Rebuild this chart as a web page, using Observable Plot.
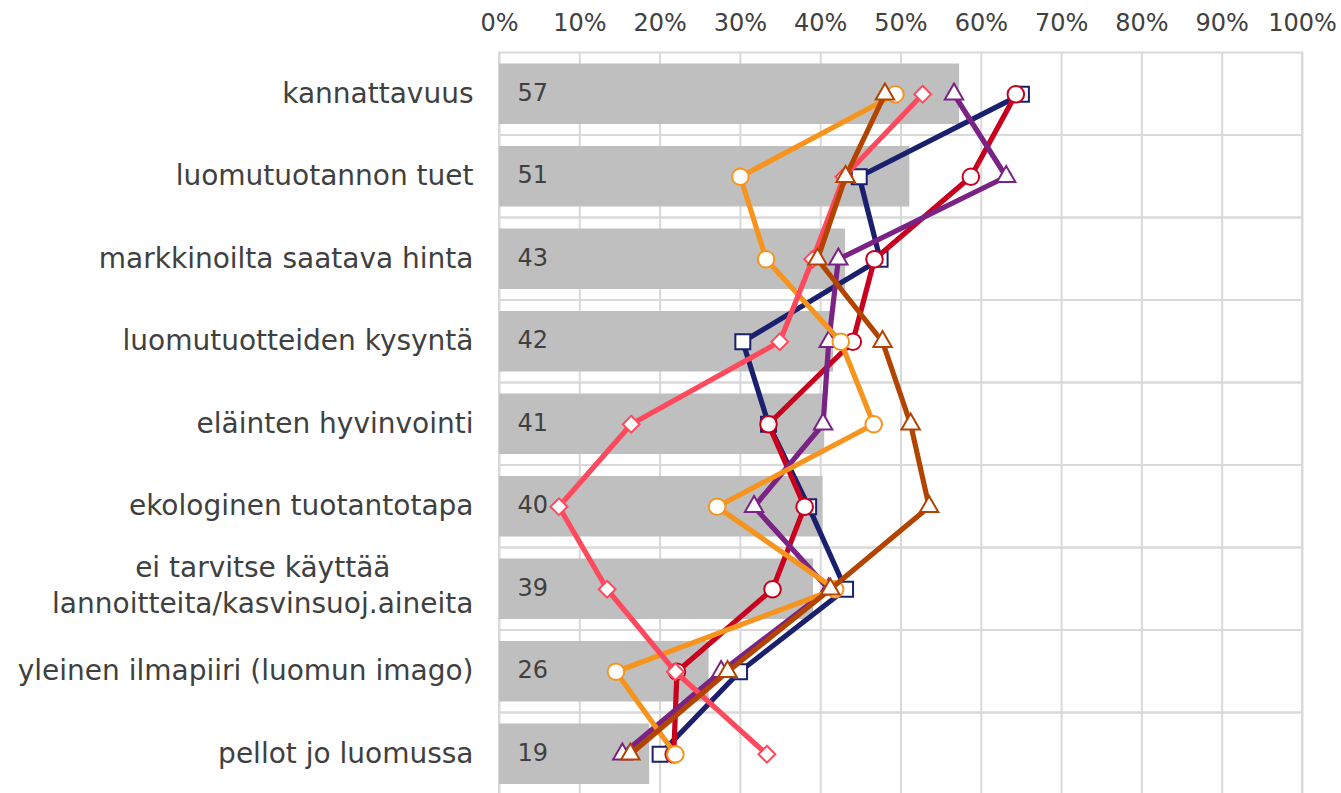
<!DOCTYPE html>
<html><head><meta charset="utf-8">
<script src="https://cdn.jsdelivr.net/npm/d3@7"></script>
<script src="https://cdn.jsdelivr.net/npm/@observablehq/plot@0.6"></script>
<style>html,body{margin:0;padding:0;background:#fff} svg{display:block}</style>
</head><body><div id="chart"></div>
<script>
// ---- data ----
const categories = [
  "kannattavuus",
  "luomutuotannon tuet",
  "markkinoilta saatava hinta",
  "luomutuotteiden kysyntä",
  "eläinten hyvinvointi",
  "ekologinen tuotantotapa",
  "ei tarvitse käyttää\nlannoitteita/kasvinsuoj.aineita",
  "yleinen ilmapiiri (luomun imago)",
  "pellot jo luomussa"
];
const totals = [57.3, 51.1, 43.1, 41.6, 40.5, 40.3, 39.1, 26.1, 18.7];
const barLabels = ["57", "51", "43", "42", "41", "40", "39", "26", "19"];
const seriesNavy   = [65.0, 44.8, 47.4, 30.3, 33.5, 38.5, 43.1, 29.9, 20.0];
const seriesRed    = [64.3, 58.7, 46.7, 44.0, 33.5, 38.0, 34.0, 22.1, 21.7];
const seriesPurple = [56.6, 63.1, 42.2, 41.0, 40.3, 31.7, 41.0, 27.6, 15.3];
const seriesOrange = [49.3, 30.0, 33.2, 42.5, 46.6, 27.1, 41.8, 14.5, 21.9];
const seriesPink   = [52.7, 42.9, 39.0, 34.9, 16.4, 7.4, 13.4, 21.9, 33.3];
const seriesBrown  = [48.0, 43.1, 39.6, 47.7, 51.2, 53.5, 41.2, 28.4, 16.3];
const xTicks = [0, 10, 20, 30, 40, 50, 60, 70, 80, 90, 100];
const xDomain = [0, 100];

// ---- styles ----
const series = [
  {values: seriesNavy,   color: "#1a1f6e", symbol: "square2",   r: 9.5},
  {values: seriesRed,    color: "#c8001e", symbol: "circle",    r: 8.3},
  {values: seriesPurple, color: "#7a2384", symbol: "triangle2", r: 8.8},
  {values: seriesOrange, color: "#f7941d", symbol: "circle",    r: 8.3},
  {values: seriesPink,   color: "#ff4a5e", symbol: "diamond2",  r: 7.6},
  {values: seriesBrown,  color: "#b34400", symbol: "triangle2", r: 8.8}
];
const grid = "#d9d9d9";
const textColor = "#404040";

const rows = categories.map((c, i) => ({cat: c, total: totals[i], label: barLabels[i]}));

const marks = [
  Plot.ruleX(xTicks, {stroke: grid, strokeWidth: 2}),
  Plot.barX(categories, {y: d => d, x1: xDomain[0], x2: xDomain[1], fill: "none", stroke: grid, strokeWidth: 2}),
  Plot.barX(rows, {y: "cat", x: "total", fill: "#bfbfbf", insetTop: 11, insetBottom: 11}),
  Plot.text(rows, {y: "cat", x: xDomain[0], text: "label", textAnchor: "start", dx: 18, dy: -1, fontSize: 24, fill: textColor}),
];
for (const s of series) {
  const data = categories.map((c, i) => ({cat: c, v: s.values[i]}));
  marks.push(Plot.line(data, {x: "v", y: "cat", stroke: s.color, strokeWidth: 5.2}));
  marks.push(Plot.dot(data, {x: "v", y: "cat", symbol: s.symbol, r: s.r, stroke: s.color, fill: "white", strokeWidth: 2}));
}
marks.push(Plot.axisX(xTicks, {anchor: "top", tickSize: 0, tickPadding: 22, tickFormat: d => d + "%", fontSize: 24, label: null}));
marks.push(Plot.axisY({anchor: "left", tickSize: 0, tickPadding: 26, dy: -3, fontSize: 28, lineHeight: 1.28, label: null}));

const chart = Plot.plot({
  width: 1341,
  height: 793,
  marginLeft: 499,
  marginRight: 39,
  marginTop: 52.5,
  marginBottom: 0,
  style: {fontFamily: "'DejaVu Sans', Verdana, sans-serif", color: textColor, background: "#fff", overflow: "hidden"},
  x: {domain: xDomain, label: null},
  y: {type: "band", domain: categories, range: [52.5, 795], padding: 0, round: false, label: null},
  marks
});
document.getElementById("chart").appendChild(chart);

// center the lines of multi-line axis labels (as in the original)
chart.querySelectorAll("text").forEach(t => {
  const spans = t.querySelectorAll("tspan");
  if (spans.length > 1) {
    let w = 0;
    spans.forEach(sp => { w = Math.max(w, sp.getComputedTextLength()); });
    spans.forEach(sp => { sp.setAttribute("x", -w / 2); sp.setAttribute("text-anchor", "middle"); sp.style.textAnchor = "middle"; });
    t.setAttribute("transform", (t.getAttribute("transform") || "") + " translate(0,-3)");
  }
});
</script>
</body></html>
